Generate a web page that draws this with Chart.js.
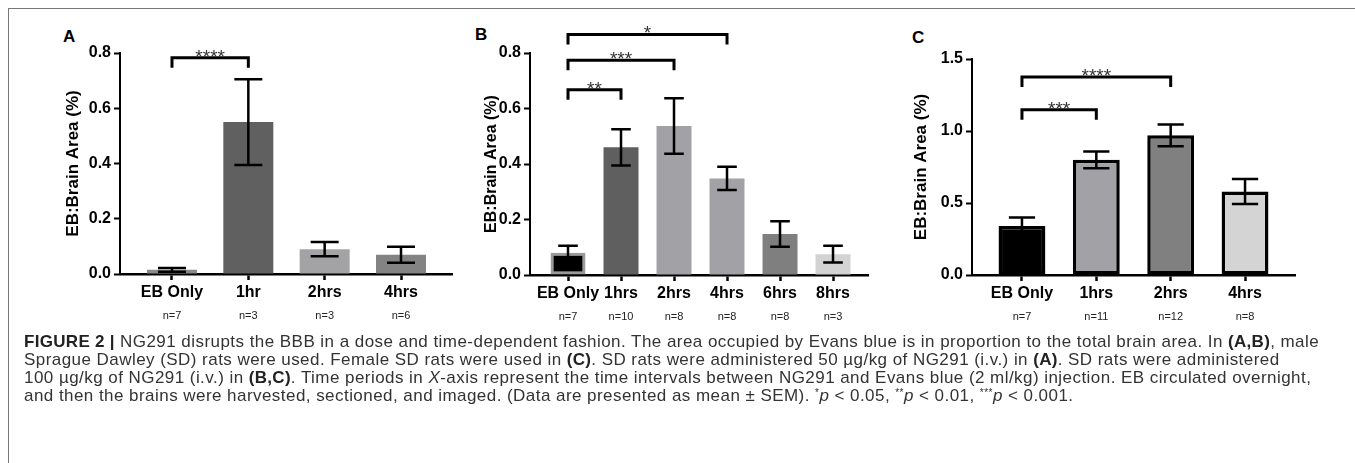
<!DOCTYPE html>
<html>
<head>
<meta charset="utf-8">
<script src="https://cdn.jsdelivr.net/npm/chart.js@4.4.1/dist/chart.umd.min.js"></script>
<style>
body{margin:0;background:#fff;width:1355px;height:463px;overflow:hidden;position:relative;font-family:'Liberation Sans',Arial,sans-serif}
.frame{position:absolute;left:8px;top:8px;width:1400px;height:500px;border:1px solid #777}
canvas{position:absolute;top:20px}
.lt{position:absolute;font-weight:bold;font-size:17px;line-height:17px;color:#000}
.cap{position:absolute;left:24px;top:333px;font-size:17px;letter-spacing:0.45px;line-height:18px;color:#333;white-space:nowrap}
.cap b{color:#222;letter-spacing:0.3px}
.cap .s{position:relative;top:-5px;font-size:10px;line-height:0}
</style>
</head>
<body>
<div class="frame"></div>
<div class="lt" style="left:63px;top:28px">A</div>
<div class="lt" style="left:475px;top:26px">B</div>
<div class="lt" style="left:912px;top:29px">C</div>
<canvas id="chartA" width="430" height="320" style="left:40px"></canvas>
<canvas id="chartB" width="420" height="320" style="left:460px"></canvas>
<canvas id="chartC" width="420" height="320" style="left:888px"></canvas>
<div class="cap"><b>FIGURE 2 |</b> NG291 disrupts the BBB in a dose and time-dependent fashion. The area occupied by Evans blue is in proportion to the total brain area. In <b>(A,B)</b>, male<br>Sprague Dawley (SD) rats were used. Female SD rats were used in <b>(C)</b>. SD rats were administered 50 &micro;g/kg of NG291 (i.v.) in <b>(A)</b>. SD rats were administered<br>100 &micro;g/kg of NG291 (i.v.) in <b>(B,C)</b>. Time periods in <i>X</i>-axis represent the time intervals between NG291 and Evans blue (2 ml/kg) injection. EB circulated overnight,<br>and then the brains were harvested, sectioned, and imaged. (Data are presented as mean &plusmn; SEM). <span class="s">*</span><i>p</i> &lt; 0.05, <span class="s">**</span><i>p</i> &lt; 0.01, <span class="s">***</span><i>p</i> &lt; 0.001.</div>
<script>
// A: 50 ug/kg, male
const catsA=['EB Only','1hr','2hrs','4hrs'];
const nA=['n=7','n=3','n=3','n=6'];
const meanA=[0.015,0.55,0.09,0.07];
const semA=[0.007,0.155,0.026,0.029];
const colA=['#8a8a8a','#606060','#a3a3a6','#838383'];
const sigA=[{from:0,to:1,y:0.783,label:'****'}];

// B: 100 ug/kg, male
const catsB=['EB Only','1hrs','2hrs','4hrs','6hrs','8hrs'];
const nB=['n=7','n=10','n=8','n=8','n=8','n=3'];
const meanB=[0.08,0.46,0.537,0.348,0.148,0.075];
const semB=[0.025,0.065,0.1,0.042,0.046,0.03];
const colB=['#000000','#5f5f5f','#a2a2a6','#a2a2a6','#7f7f7f','#d3d3d3'];
const sigB=[{from:0,to:1,y:0.668,label:'**'},{from:0,to:2,y:0.774,label:'***'},{from:0,to:3,y:0.867,label:'*'}];

// C: 100 ug/kg, female
const catsC=['EB Only','1hrs','2hrs','4hrs'];
const nC=['n=7','n=11','n=12','n=8'];
const meanC=[0.34,0.8,0.97,0.58];
const semC=[0.06,0.058,0.076,0.087];
const colC=['#000000','#a2a2a6','#808080','#d4d4d4'];
const sigC=[{from:0,to:1,y:1.147,label:'***'},{from:0,to:2,y:1.375,label:'****'}];

Chart.defaults.font.family="'Liberation Sans', Arial, sans-serif";
Chart.defaults.color='#000';

const errorBars={
  id:'errorBars',
  afterDatasetsDraw(chart,args,opts){
    const {ctx,scales:{y}}=chart;
    const meta=chart.getDatasetMeta(0);
    ctx.save();
    ctx.strokeStyle='#000';ctx.lineWidth=2.5;
    meta.data.forEach((bar,i)=>{
      const v=chart.data.datasets[0].data[i].y,s=opts.sem[i];
      const t=y.getPixelForValue(v+s),b=y.getPixelForValue(v-s),hw=bar.width*0.28;
      ctx.beginPath();
      ctx.moveTo(bar.x,t);ctx.lineTo(bar.x,b);
      ctx.moveTo(bar.x-hw,t);ctx.lineTo(bar.x+hw,t);
      ctx.moveTo(bar.x-hw,b);ctx.lineTo(bar.x+hw,b);
      ctx.stroke();
    });
    ctx.restore();
  }
};

const brackets={
  id:'brackets',
  afterDraw(chart,args,opts){
    const {ctx,scales:{x,y}}=chart;
    ctx.save();
    ctx.strokeStyle='#000';ctx.lineWidth=3;ctx.lineJoin='miter';
    ctx.fillStyle='#333';ctx.font='19px "Liberation Sans", Arial';ctx.textAlign='center';ctx.textBaseline='alphabetic';
    opts.items.forEach(s=>{
      const x1=x.getPixelForValue(s.from),x2=x.getPixelForValue(s.to),yp=y.getPixelForValue(s.y);
      ctx.beginPath();
      ctx.moveTo(x1,yp+10);ctx.lineTo(x1,yp);ctx.lineTo(x2,yp);ctx.lineTo(x2,yp+10);
      ctx.stroke();
      ctx.fillText(s.label,(x1+x2)/2,yp+5);
    });
    ctx.restore();
  }
};

function panel(id,cats,ns,means,sems,cols,sig,o){
  const pts=means.map((v,i)=>({x:i,y:v}));
  new Chart(document.getElementById(id),{type:'bar',
    data:{datasets:[{data:pts,backgroundColor:cols,borderColor:o.border,borderWidth:o.bw,borderSkipped:false,
      barPercentage:o.bp,categoryPercentage:1}]},
    options:{responsive:false,animation:false,devicePixelRatio:1,
      layout:{padding:{top:o.top,right:o.right,left:0,bottom:0}},
      plugins:{legend:{display:false},tooltip:{enabled:false},errorBars:{sem:sems},brackets:{items:sig}},
      scales:{
        x:{type:'linear',position:'bottom',min:o.xmin,max:o.xmax,offset:false,
          afterFit:s=>{s.height=32;},
          grid:{offset:false,drawOnChartArea:false,drawTicks:true,tickLength:6,tickWidth:2.5,tickColor:'#000'},
          border:{display:true,color:'#000',width:2.5},
          ticks:{stepSize:1,includeBounds:false,autoSkip:false,maxRotation:0,padding:3,
            font:{size:16,weight:'bold'},color:'#000',callback:v=>cats[v]}},
        n:{type:'linear',position:'bottom',min:o.xmin,max:o.xmax,offset:false,
          afterFit:s=>{s.height=o.nh;},
          grid:{display:false,drawTicks:false,offset:false},border:{display:false},
          ticks:{stepSize:1,includeBounds:false,autoSkip:false,maxRotation:0,padding:3,
            font:{size:11},color:'#222',callback:v=>ns[v]}},
        y:{min:0,max:o.ymax,
          afterFit:s=>{s.width=o.yw;},
          grid:{drawOnChartArea:false,drawTicks:true,tickLength:6,tickWidth:2,tickColor:'#000'},
          border:{display:true,color:'#000',width:2},
          ticks:{stepSize:o.step,padding:3,font:{size:16,weight:'bold'},color:'#000',callback:v=>v.toFixed(1)},
          title:{display:true,text:'EB:Brain Area (%)',font:{size:o.tf,weight:'bold'},color:'#000',padding:{top:o.tp,bottom:0}}}
      }},
    plugins:[errorBars,brackets]
  });
}

panel('chartA',catsA,nA,meanA,semA,colA,sigA,
  {xmin:-0.681,xmax:3.668,bp:0.655,top:33,right:18,yw:80,ymax:0.8,step:0.2,nh:34,tf:17,tp:23,border:colA,bw:0});
panel('chartB',catsB,nB,meanB,semB,colB,sigB,
  {xmin:-0.717,xmax:5.66,bp:0.66,top:33,right:12,yw:70,ymax:0.8,step:0.2,nh:33,tf:16,tp:22,
   border:['#9a9a9a','#5f5f5f','#a2a2a6','#a2a2a6','#7f7f7f','#d3d3d3'],bw:[3,0,0,0,0,0]});
panel('chartC',catsC,nC,meanC,semC,colC,sigC,
  {xmin:-0.672,xmax:3.672,bp:0.63,top:39,right:13,yw:84,ymax:1.5,step:0.5,nh:33,tf:17,tp:23,border:'#000',bw:3.5});
</script>
</body>
</html>
